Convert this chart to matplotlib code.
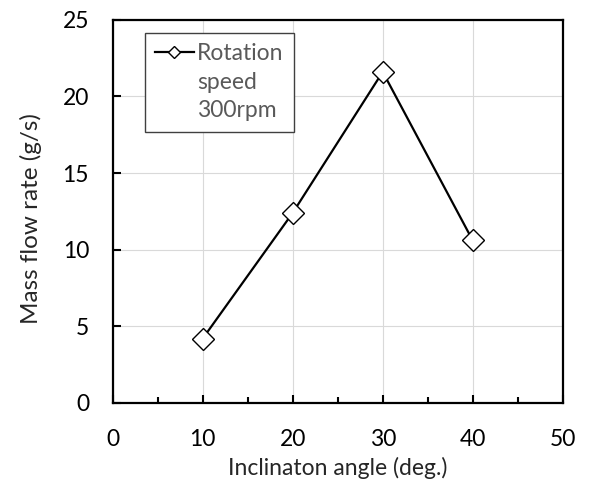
import matplotlib
matplotlib.use("Agg")
import matplotlib.pyplot as plt
from matplotlib.lines import Line2D
from matplotlib.ticker import MultipleLocator

angle = [10, 20, 30, 40]
mass_flow = [4.2, 12.4, 21.6, 10.6]
series_label = ["Rotation", "speed", "300rpm"]

plt.rcParams['font.family'] = ['Lato', 'DejaVu Sans']

fig = plt.figure(figsize=(5.93, 4.82), dpi=100)
ax = fig.add_axes([0.19, 0.164, 0.759, 0.795])

line, = ax.plot(angle, mass_flow, color="black", lw=1.6, marker="D", ms=11,
                mfc="white", mec="black", mew=1.0, zorder=3)

ax.set_xlim(0, 50)
ax.set_ylim(0, 25)
ax.xaxis.set_major_locator(MultipleLocator(10))
ax.xaxis.set_minor_locator(MultipleLocator(5))
ax.yaxis.set_major_locator(MultipleLocator(5))
ax.grid(True, which="major", color="#d9d9d9", lw=0.8, zorder=0)
ax.tick_params(which="major", direction="in", length=6, width=1.5,
               labelsize=16.5, colors="black")
ax.tick_params(axis="y", which="major", pad=17)
ax.tick_params(axis="x", which="major", pad=19)
ax.tick_params(which="minor", direction="in", length=4, width=1.5)
for s in ax.spines.values():
    s.set_linewidth(1.6)
    s.set_color("black")

ax.set_xlabel("Inclinaton angle (deg.)", fontsize=16.5, labelpad=5,
              color="#262626")
ax.set_ylabel("Mass flow rate (g/s)", fontsize=17.5, labelpad=15,
              color="#262626", y=0.48)

# legend: marker on the first line only, like the spreadsheet original
blank = Line2D([], [], linestyle="none")
handles = [line, blank, blank]
leg = ax.legend(handles, series_label, loc="upper left",
                bbox_to_anchor=(0.071, 0.966), fontsize=16.5,
                fancybox=False, framealpha=1, edgecolor="#404040",
                handlelength=1.7, handletextpad=0.15, borderpad=0.45,
                labelspacing=0.33, markerscale=0.55, labelcolor="#595959",
                borderaxespad=0)
leg.get_frame().set_linewidth(1.0)

fig.savefig("out.png", dpi=100)
